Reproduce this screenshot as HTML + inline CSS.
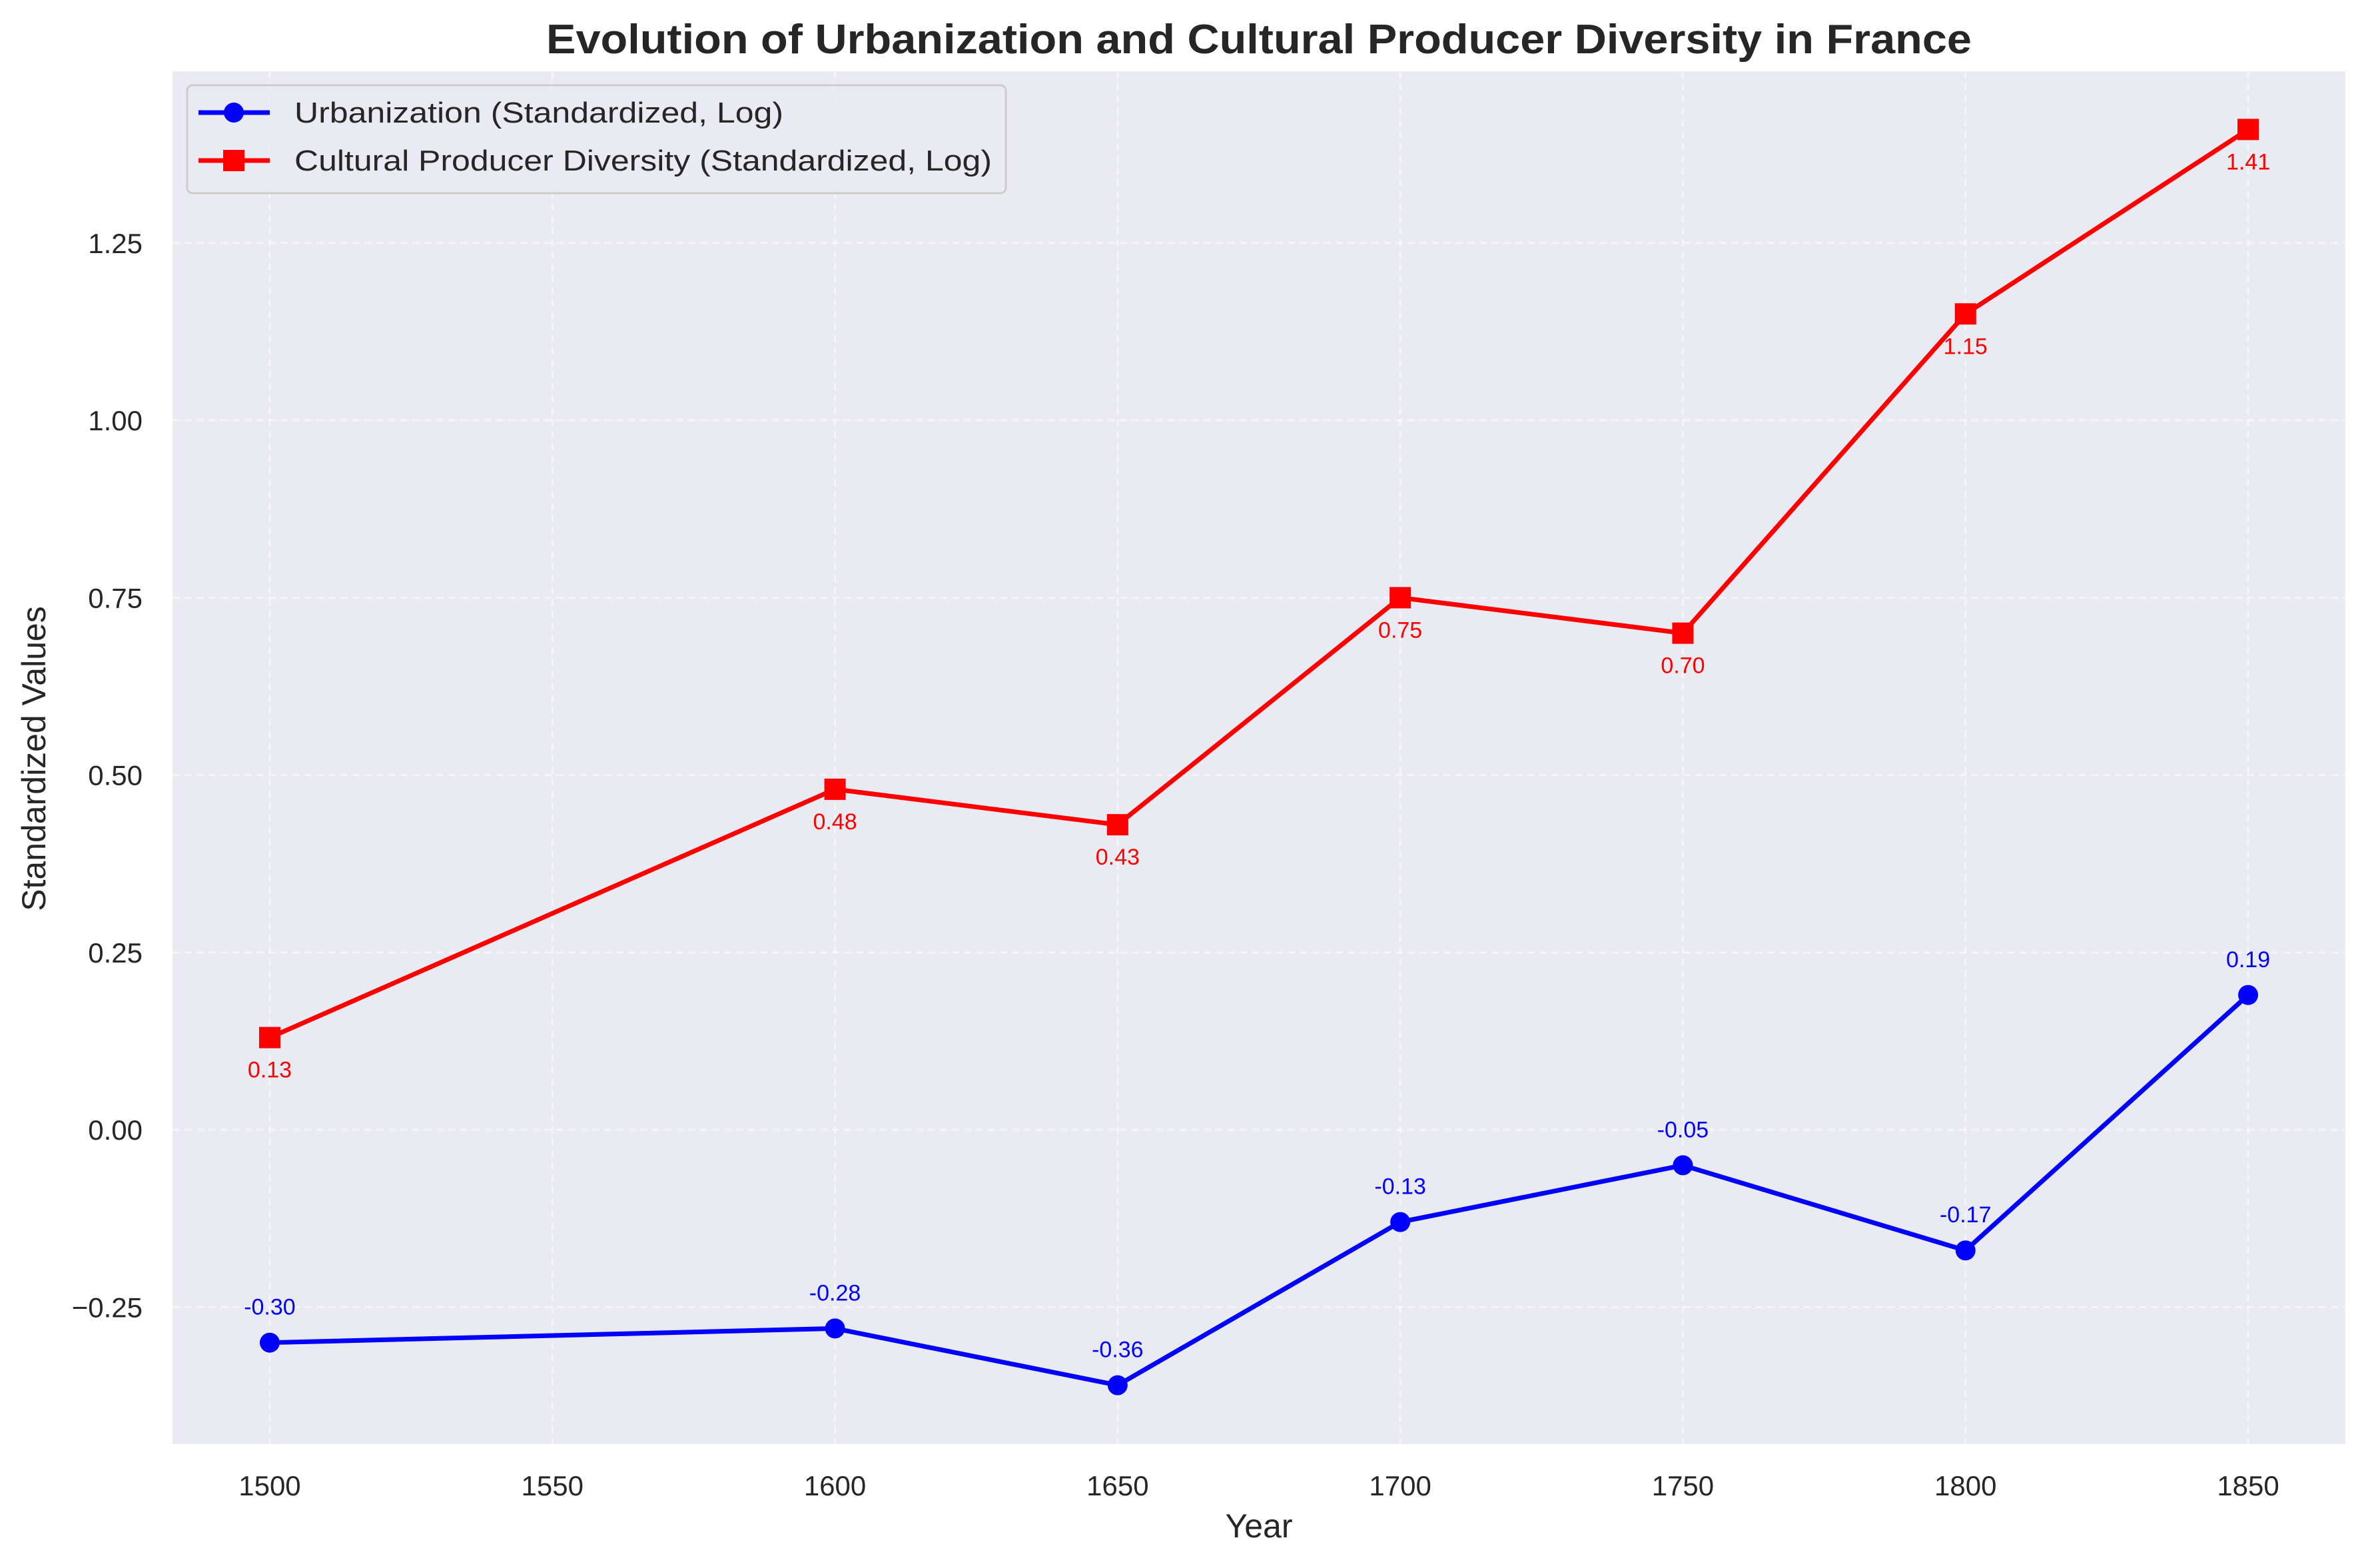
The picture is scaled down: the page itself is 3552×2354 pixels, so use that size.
<!DOCTYPE html>
<html><head><meta charset="utf-8"><style>
html,body{margin:0;padding:0;background:#fff}
svg{display:block;font-family:"Liberation Sans",Arial,sans-serif}
</style></head><body>
<svg id="chart" width="3552" height="2354" viewBox="0 0 3552 2354" xmlns="http://www.w3.org/2000/svg">
<rect x="0" y="0" width="3552" height="2354" fill="#fff"/>
<rect x="259" y="107" width="3262" height="2061" fill="#EAEAF2"/>
<g id="grid"></g>
<g id="ticks"></g>
<g id="series"></g>
<text x="1890" y="80" text-anchor="middle" font-size="62" font-weight="bold" fill="#262626" textLength="2140" lengthAdjust="spacingAndGlyphs">Evolution of Urbanization and Cultural Producer Diversity in France</text>
<text x="1890" y="2308" text-anchor="middle" font-size="50" fill="#262626">Year</text>
<text transform="translate(68,1139) rotate(-90)" text-anchor="middle" font-size="50" fill="#262626">Standardized Values</text>
<g>
<rect x="281" y="128" width="1229" height="162" rx="8" fill="#EAEAF2" fill-opacity="0.8" stroke="#cccccc" stroke-width="3"/>
<line x1="298" y1="169" x2="405" y2="169" stroke="#0000ff" stroke-width="7"/>
<circle cx="351" cy="169" r="15" fill="#0000ff"/>
<text x="442" y="184" font-size="44" fill="#262626" textLength="734" lengthAdjust="spacingAndGlyphs">Urbanization (Standardized, Log)</text>
<line x1="298" y1="241" x2="405" y2="241" stroke="#ff0000" stroke-width="7"/>
<rect x="335" y="225" width="32" height="32" fill="#ff0000"/>
<text x="442" y="256" font-size="44" fill="#262626" textLength="1047" lengthAdjust="spacingAndGlyphs">Cultural Producer Diversity (Standardized, Log)</text>
</g>
</svg>
<script>
const years = [1500, 1600, 1650, 1700, 1750, 1800, 1850];
const urbanization = [-0.30, -0.28, -0.36, -0.13, -0.05, -0.17, 0.19];
const diversity = [0.13, 0.48, 0.43, 0.75, 0.70, 1.15, 1.41];
const xTicks = [1500, 1550, 1600, 1650, 1700, 1750, 1800, 1850];
const yTicks = [-0.25, 0, 0.25, 0.5, 0.75, 1.0, 1.25];
const yTickLabels = ["\u22120.25", "0.00", "0.25", "0.50", "0.75", "1.00", "1.25"];

const NS = "http://www.w3.org/2000/svg";
const L = 259, R = 3521, T = 107, B = 2168;
const xMin = 1482.8, xMax = 1867.2, yMin = -0.443, yMax = 1.492;
const xs = v => L + (v - xMin) / (xMax - xMin) * (R - L);
const ys = v => B - (v - yMin) / (yMax - yMin) * (B - T);
function mk(tag, attrs, parent) {
  const e = document.createElementNS(NS, tag);
  for (const k in attrs) e.setAttribute(k, attrs[k]);
  parent.appendChild(e);
  return e;
}
const grid = document.getElementById('grid');
const ticks = document.getElementById('ticks');
const series = document.getElementById('series');

xTicks.forEach(t => {
  const g = mk('line', {x1: xs(t), x2: xs(t), y1: T, y2: B, stroke: '#ffffff', 'stroke-width': 3, 'stroke-dasharray': '11 7', 'stroke-opacity': 0.5}, grid);
  
  
  const tx = mk('text', {x: xs(t), y: 2245, 'text-anchor': 'middle', 'font-size': 42, fill: '#262626'}, ticks);
  tx.textContent = String(t);
  
  
});
yTicks.forEach((t, i) => {
  const g = mk('line', {x1: L, x2: R, y1: ys(t), y2: ys(t), stroke: '#ffffff', 'stroke-width': 3, 'stroke-dasharray': '11 7', 'stroke-opacity': 0.5}, grid);
  
  
  const tx = mk('text', {x: 214, y: ys(t) + 15, 'text-anchor': 'end', 'font-size': 42, fill: '#262626'}, ticks);
  tx.textContent = yTickLabels[i];
  
  
});

function drawSeries(vals, color, kind, name, labelDy) {
  const pts = years.map((y, i) => xs(y) + ',' + ys(vals[i])).join(' ');
  const pl = mk('polyline', {points: pts, fill: 'none', stroke: color, 'stroke-width': 7, 'stroke-linejoin': 'round'}, series);
  
  
  years.forEach((y, i) => {
    const cx = xs(y), cy = ys(vals[i]);
    let m;
    if (kind === 'circle') m = mk('circle', {cx: cx, cy: cy, r: 15, fill: color}, series);
    else m = mk('rect', {x: cx - 16, y: cy - 16, width: 32, height: 32, fill: color}, series);
    
    
    const lb = mk('text', {x: cx, y: cy + labelDy, 'text-anchor': 'middle', 'font-size': 34, fill: color}, series);
    lb.textContent = vals[i].toFixed(2);
    
    
  });
}
drawSeries(urbanization, '#0000ff', 'circle', 'urbanization', -42);
drawSeries(diversity, '#ff0000', 'square', 'diversity', 60);
</script>
</body></html>
